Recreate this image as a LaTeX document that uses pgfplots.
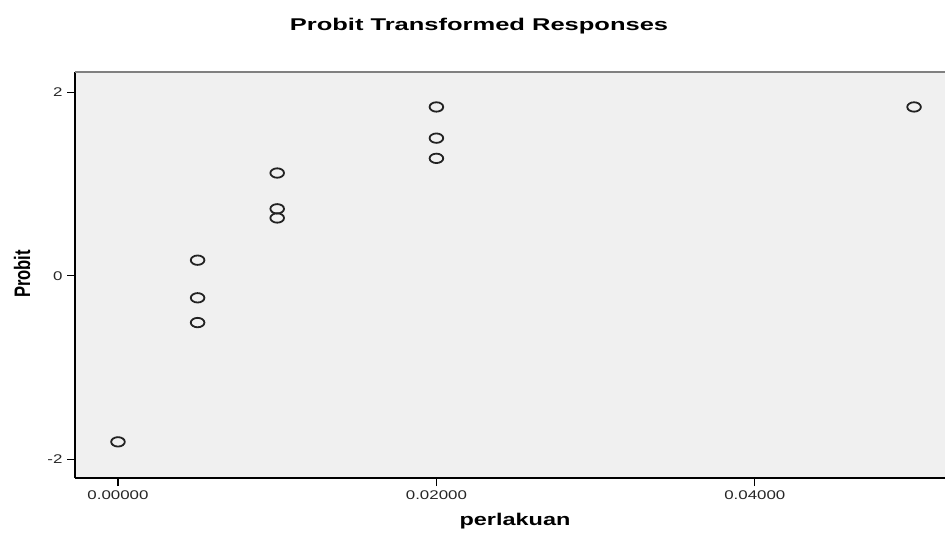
\documentclass[border=0pt]{standalone}
\usepackage{pgfplots}
\pgfplotsset{compat=1.18}
\usepackage{fontspec}
\setmainfont{Liberation Sans}
\newfontfamily\tickf[FakeStretch=1.34]{Liberation Sans}
\newfontfamily\titlef[FakeStretch=1.5]{Liberation Sans}
\newfontfamily\xlabf[FakeStretch=1.38]{Liberation Sans}
\definecolor{bg}{HTML}{F0F0F0}
\definecolor{topline}{HTML}{808080}
\definecolor{mk}{HTML}{222222}
\begin{document}
\begin{tikzpicture}[x=1pt,y=1pt]
\useasboundingbox (0,0) rectangle (945,-533);
\begin{axis}[
  at={(75pt,-478pt)}, anchor=south west,
  width=872pt, height=406pt, scale only axis,
  xmin=-0.0027, xmax=0.05207,
  ymin=-2.204, ymax=2.221,
  scaled ticks=false,
  axis x line*=bottom, axis y line*=left,
  axis line style={black, line width=1.4pt},
  axis background/.style={fill=bg},
  tick align=outside,
  major tick length=8pt,
  tick style={black, line width=1.2pt},
  xtick={0,0.02,0.04},
  xticklabels={0.00000,0.02000,0.04000},
  ytick={-2,0,2},
  yticklabels={-2,0,2},
  /pgf/number format/assume math mode=true,
  ticklabel style={font=\tickf\fontsize{12.6}{14}\selectfont, text=black!85},
  xticklabel style={yshift=-1pt},
  yticklabel style={xshift=-1pt},
  clip=false,
]
\addplot[only marks, mark=o, mark size=4.7pt,
  mark options={xscale=1.45, line width=1.8pt, draw=mk}]
  coordinates {
  (0,-1.81)
  (0.005,0.17) (0.005,-0.24) (0.005,-0.51)
  (0.01,1.12) (0.01,0.73) (0.01,0.63)
  (0.02,1.84) (0.02,1.50) (0.02,1.28)
  (0.05,1.84)
  };
\draw[topline, line width=1.6pt] (rel axis cs:0,1) -- (rel axis cs:1,1);
\end{axis}
\node[anchor=base, inner sep=0pt, font=\titlef\bfseries\fontsize{17}{20}\selectfont] at (479,-30.5) {Probit Transformed Responses};
\node[anchor=base, inner sep=0pt, font=\xlabf\bfseries\fontsize{17}{20}\selectfont] at (515,-525) {perlakuan};
\node[rotate=90, inner sep=0pt, font=\bfseries\fontsize{16.6}{18}\selectfont] at (22,-274) {\scalebox{1}[1.35]{Probit}};
\end{tikzpicture}
\end{document}
